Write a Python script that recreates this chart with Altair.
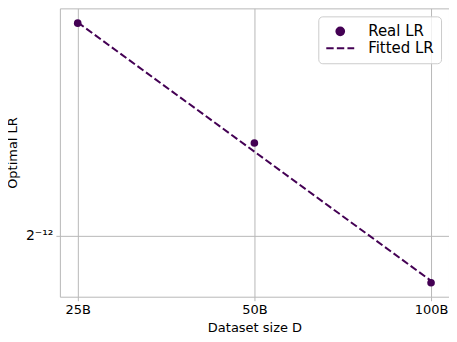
import altair as alt
import pandas as pd

dataset_b = [25, 50, 100]
real_lr = [3.995e-4, 3.027e-4, 2.19e-4]
fitted_lr = [4.002e-4, 2.967e-4, 2.20e-4]
x_ticks = [25, 50, 100]
y_ticks = [2 ** -12]

purple = "#440154"
grid = "#b8b8b8"

real = pd.DataFrame({"D": dataset_b, "lr": real_lr, "series": "Real LR"})
fit = pd.DataFrame({"D": dataset_b, "lr": fitted_lr, "series": "Fitted LR"})

xs = alt.Scale(type="log", base=2, domain=[23.31, 107.3], nice=False)
ys = alt.Scale(type="log", base=2, domain=[2.1205e-4, 4.134e-4], nice=False)
cs = alt.Scale(domain=["Real LR", "Fitted LR"], range=[purple, purple])

xax = alt.Axis(values=x_ticks, labelExpr="datum.value + 'B'", title="Dataset size D")
yax = alt.Axis(values=y_ticks, labelExpr="'2⁻¹²'", title="Optimal LR",
               labelFontSize=14, titlePadding=6)

legend = alt.Legend(
    title=None, orient="top-right", offset=8,
    symbolType={"expr": "datum.label == 'Real LR' ? 'circle' : 'M-2,0H2'"},
    symbolSize={"expr": "datum.label == 'Real LR' ? 60 : 196"},
    symbolDash={"expr": "datum.label == 'Real LR' ? [] : [7.4, 3.2]"},
    symbolStrokeWidth=2,
    symbolFillColor={"expr": "datum.label == 'Real LR' ? '#440154' : 'transparent'"},
    symbolStrokeColor=purple,
    labelFont="DejaVu Sans", labelFontSize=15, labelColor="black",
    strokeColor="#cccccc", fillColor="rgba(255,255,255,0.8)", cornerRadius=4,
    padding=7, rowPadding=1, symbolOffset=7, labelOffset=20,
)

pts = alt.Chart(real).mark_circle(size=58, opacity=1).encode(
    x=alt.X("D:Q", scale=xs, axis=xax),
    y=alt.Y("lr:Q", scale=ys, axis=yax),
    color=alt.Color("series:N", scale=cs, legend=legend),
)
line = alt.Chart(fit).mark_line(strokeDash=[7.4, 3.2], strokeWidth=2).encode(
    x=alt.X("D:Q", scale=xs),
    y=alt.Y("lr:Q", scale=ys),
    color=alt.Color("series:N", scale=cs, legend=legend),
)

chart = alt.layer(line, pts).properties(
    width=390, height=289,
    autosize=alt.AutoSizeParams(type="none"),
    padding={"left": 52, "top": 0, "right": 0, "bottom": 37},
).configure_view(
    stroke=grid, strokeWidth=1
).configure_axis(
    domain=False, grid=True, gridColor=grid, gridWidth=1, gridOpacity=1,
    tickColor=grid, tickSize=4, labelFont="DejaVu Sans", labelFontSize=13,
    labelColor="black", labelPadding=3, titleFont="DejaVu Sans",
    titleFontSize=13, titleFontWeight="normal", titleColor="black",
).configure_axisX(titlePadding=5)

chart.save("out.html", embed_options={"renderer": "svg", "actions": False})
